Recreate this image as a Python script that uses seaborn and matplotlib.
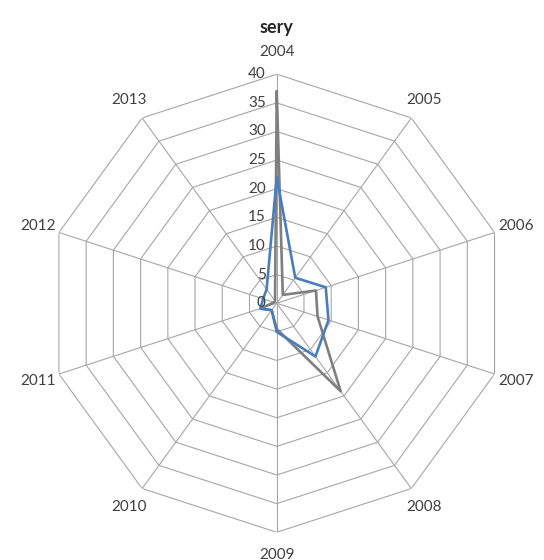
import numpy as np
import pandas as pd
import matplotlib
matplotlib.use('Agg')
import matplotlib.pyplot as plt
import seaborn as sns

# data
years = ['2004', '2005', '2006', '2007', '2008', '2009', '2010', '2011', '2012', '2013']
blue_vals = [22, 5.5, 9, 9.5, 11.5, 5, 1.5, 3, 2.5, 3]
gray_vals = [37, 1.8, 7.2, 7.5, 19, 4.5, 1.5, 3, 0.5, 0.5]
ticks = [0, 5, 10, 15, 20, 25, 30, 35, 40]

sns.set_style('white')
plt.rcParams['font.family'] = ['Lato', 'DejaVu Sans']

n = len(years)
angles = np.linspace(0, 2 * np.pi, n, endpoint=False)
ang_closed = np.append(angles, angles[0])

rows = []
for name, vals in [('blue', blue_vals), ('gray', gray_vals)]:
    v = list(vals) + [vals[0]]
    for i, (a, r) in enumerate(zip(ang_closed, v)):
        rows.append({'series': name, 'order': i, 'theta': a, 'r': r})
df = pd.DataFrame(rows)

fig = plt.figure(figsize=(5.44, 5.6), dpi=100)
ax = fig.add_axes([0.0877, 0.0495, 0.842, 0.818], projection='polar')
ax.set_theta_zero_location('N')
ax.set_theta_direction(-1)
ax.set_ylim(0, 40)
ax.grid(False)
ax.spines['polar'].set_visible(False)
ax.set_xticks([])
ax.set_yticks([])

# polygon grid like the spreadsheet radar chart
grid_col = '#a6a6a6'
for t in ticks[1:]:
    ax.plot(ang_closed, [t] * (n + 1), color=grid_col, lw=0.8, zorder=1)
for a in angles:
    ax.plot([a, a], [0, 40], color=grid_col, lw=0.8, zorder=1)

sns.lineplot(data=df, x='theta', y='r', hue='series', units='series', estimator=None,
             sort=False, palette={'blue': '#4a7ebb', 'gray': '#7f7f7f'},
             hue_order=['gray', 'blue'], linewidth=1.9, legend=False, ax=ax, zorder=3)
ax.set_xlabel('')
ax.set_ylabel('')
ax.set_ylim(0, 40)

for t in ticks:
    ax.annotate(str(t), xy=(0, t), xytext=(-8, 0), textcoords='offset points',
                ha='right', va='center', fontsize=11, color='#404040')

for a, lab in zip(angles, years):
    ax.text(a, 43.9, lab, ha='center', va='center', fontsize=11, color='#404040')

fig.text(0.508, 0.951, 'sery', ha='center', va='center', fontsize=13,
         fontweight='bold', color='#262626')

fig.savefig('out.png', dpi=100)
